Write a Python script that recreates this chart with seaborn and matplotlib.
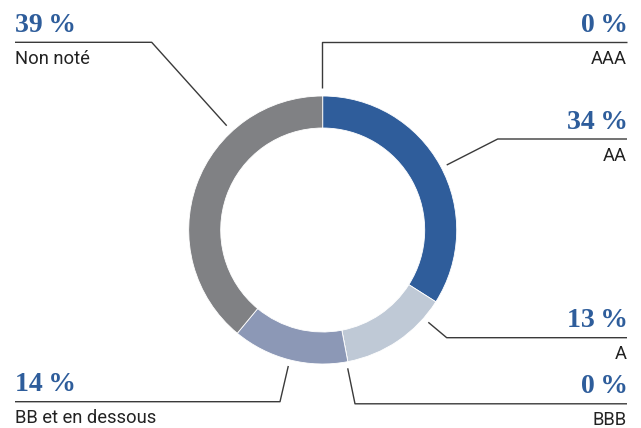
import numpy as np
import matplotlib
matplotlib.use("Agg")
import matplotlib.pyplot as plt
import seaborn as sns

# Rating breakdown (share of portfolio, %)
categories = ["AAA", "AA", "A", "BBB", "BB et en dessous", "Non noté"]
shares = [0, 34, 13, 0, 14, 39]
pct_labels = ["0\u2009%", "34\u2009%", "13\u2009%", "0\u2009%", "14\u2009%", "39\u2009%"]

# Slice colours
slice_colors = ["#2f5d9b", "#2f5d9b", "#bfc9d6", "#bfc9d6", "#8c98b6", "#808184"]

# Callout layout (pixel coordinates, y measured from the top)
W, H = 641, 428
center_px = (322.7, 230.0)
outer_r, ring_w = 134, 32
callout_start = [(322.3, 88.0), (446.7, 165.0), (428.3, 322.3),
                 (347.7, 368.3), (288.3, 366.0), (226.7, 125.7)]
callout_elbow = [(322.3, 42.3), (497.7, 139.0), (446.7, 337.7),
                 (355.0, 403.8), (280.0, 401.7), (151.7, 42.3)]
callout_side = ["right", "right", "right", "right", "left", "left"]
x_left, x_right = 15, 627

sns.set_theme(style="white")
plt.rcParams["font.family"] = ["Roboto", "DejaVu Sans"]

fig = plt.figure(figsize=(W / 100, H / 100), dpi=100)
ax = fig.add_axes([0, 0, 1, 1])

cx, cy = center_px[0], H - center_px[1]
ax.pie(shares, colors=slice_colors, startangle=90, counterclock=False,
       center=(cx, cy), radius=outer_r,
       wedgeprops=dict(width=ring_w, edgecolor="white", linewidth=0.6))

ax.set_xlim(0, W)
ax.set_ylim(0, H)
ax.set_aspect("equal")
ax.axis("off")

line_kw = dict(color="#3a3a3a", lw=1.0, solid_capstyle="butt")
for cat, pct, s, e, side in zip(categories, pct_labels, callout_start,
                                callout_elbow, callout_side):
    x_end = x_right if side == "right" else x_left
    xs = [s[0], e[0], x_end]
    ys = [H - s[1], H - e[1], H - e[1]]
    ax.plot(xs, ys, **line_kw)
    ha = "right" if side == "right" else "left"
    ax.text(x_end + (1 if side == "right" else 0), H - e[1] + 10.5, pct,
            ha=ha, va="baseline", fontsize=20, fontweight="bold",
            family=["Liberation Serif", "DejaVu Serif"], color="#2e5d9b")
    ax.text(x_end, H - e[1] - 21.5, cat, ha=ha, va="baseline",
            fontsize=13.2, color="#222222")

fig.savefig("out.png", dpi=100, facecolor="white")
